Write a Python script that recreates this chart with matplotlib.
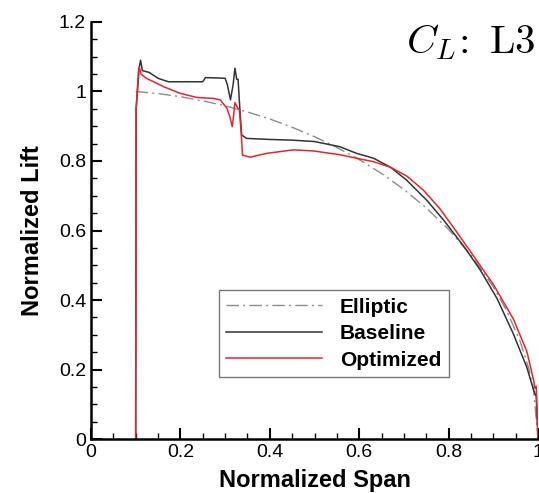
import matplotlib
matplotlib.use("Agg")
import matplotlib.pyplot as plt
from matplotlib.ticker import MultipleLocator

plt.rcParams['font.family'] = ['Liberation Sans', 'DejaVu Sans']
plt.rcParams['mathtext.fontset'] = 'cm'

# elliptic reference distribution
span_ell = [0.1, 0.15, 0.2, 0.25, 0.3, 0.35, 0.4, 0.45, 0.5, 0.55, 0.6, 0.65,
            0.7, 0.75, 0.8, 0.85, 0.9, 0.93, 0.96, 0.98, 0.99, 1.0]
lift_ell = [1.0, 0.994, 0.985, 0.973, 0.959, 0.941, 0.921, 0.897, 0.870, 0.839,
            0.804, 0.764, 0.718, 0.665, 0.603, 0.529, 0.438, 0.369, 0.281, 0.200,
            0.142, 0.0]

# baseline wing
span_base = [0.1, 0.101, 0.108, 0.111, 0.115, 0.13, 0.15, 0.173, 0.25, 0.256,
             0.30, 0.305, 0.312, 0.318, 0.322, 0.326, 0.329, 0.333, 0.337, 0.348,
             0.40, 0.45, 0.50, 0.557, 0.594, 0.632, 0.67, 0.706, 0.752, 0.790,
             0.833, 0.870, 0.908, 0.945, 0.975, 0.990, 0.996, 1.0]
lift_base = [0.0, 0.95, 1.07, 1.09, 1.06, 1.055, 1.038, 1.028, 1.028, 1.040,
             1.038, 1.02, 0.976, 1.02, 1.067, 1.035, 1.035, 0.95, 0.875, 0.865,
             0.862, 0.86, 0.856, 0.841, 0.822, 0.808, 0.782, 0.745, 0.686, 0.628,
             0.556, 0.488, 0.405, 0.302, 0.206, 0.141, 0.122, 0.0]

# optimized wing
span_opt = [0.1, 0.101, 0.106, 0.108, 0.112, 0.124, 0.145, 0.162, 0.199, 0.236,
            0.274, 0.289, 0.304, 0.310, 0.316, 0.319, 0.322, 0.327, 0.332, 0.336,
            0.339, 0.356, 0.393, 0.453, 0.497, 0.557, 0.594, 0.632, 0.670, 0.706,
            0.743, 0.781, 0.818, 0.855, 0.900, 0.945, 0.975, 0.990, 0.993, 0.996, 1.0]
lift_opt = [0.0, 0.95, 1.055, 1.071, 1.05, 1.038, 1.025, 1.014, 0.995, 0.983,
            0.980, 0.976, 0.952, 0.93, 0.899, 0.93, 0.968, 0.955, 0.947, 0.88,
            0.817, 0.811, 0.822, 0.832, 0.829, 0.818, 0.808, 0.798, 0.782, 0.757,
            0.717, 0.662, 0.596, 0.528, 0.445, 0.345, 0.252, 0.170, 0.146, 0.152, 0.0]

fig = plt.figure(figsize=(5.39, 4.93), dpi=100)
ax = fig.add_axes([0.1688, 0.1095, 0.8294, 0.8459])

ax.plot(span_ell, lift_ell, color='#8c8c8c', lw=1.0, linestyle=(0, (9, 3, 1.5, 3)), label='Elliptic')
ax.plot(span_base, lift_base, color='#333333', lw=1.1, label='Baseline')
ax.plot(span_opt, lift_opt, color='#e8232b', lw=1.1, label='Optimized')

ax.set_xlim(0, 1)
ax.set_ylim(0, 1.2)
ax.xaxis.set_minor_locator(MultipleLocator(0.05))
ax.yaxis.set_minor_locator(MultipleLocator(0.05))
ax.set_xticks([0, 0.2, 0.4, 0.6, 0.8, 1.0])
ax.set_yticks([0, 0.2, 0.4, 0.6, 0.8, 1.0, 1.2])
ax.set_xticklabels(['0', '0.2', '0.4', '0.6', '0.8', '1'])
ax.set_yticklabels(['0', '0.2', '0.4', '0.6', '0.8', '1', '1.2'])

ax.tick_params(which='both', direction='in', labelsize=14, width=1.5)
ax.tick_params(which='major', length=8)
ax.tick_params(which='minor', length=4, width=1)
for s in ['top', 'right']:
  ax.spines[s].set_visible(False)
for s in ['left', 'bottom']:
  ax.spines[s].set_linewidth(1.8)

ax.set_xlabel('Normalized Span', fontsize=17, fontweight='bold', labelpad=6)
ax.set_ylabel('Normalized Lift', fontsize=17, fontweight='bold', labelpad=11)

leg = ax.legend(loc='lower left', bbox_to_anchor=(219/539, 1 - 377/493),
                bbox_transform=fig.transFigure, borderaxespad=0,
                prop={'weight': 'bold', 'size': 15}, handlelength=4.6,
                handletextpad=0.85, labelspacing=0.36, fancybox=False,
                framealpha=1, edgecolor='#777777', borderpad=0.35)
leg.get_frame().set_linewidth(1.0)

fig.text(535/539, 1 - 53/493, r'$C_L\!:\ \mathrm{L3}$', fontsize=29.5,
         ha='right', va='baseline')

plt.savefig('out.png', dpi=100)
